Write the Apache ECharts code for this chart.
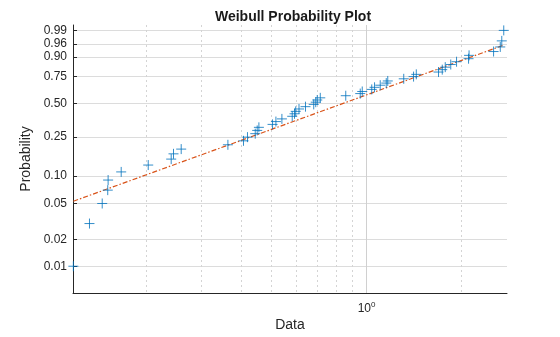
<!DOCTYPE html>
<html>
<head>
<meta charset="utf-8">
<script src="https://cdn.jsdelivr.net/npm/echarts@6/dist/echarts.min.js"></script>
<style>
  html, body { margin: 0; padding: 0; background: #fff; }
  #chart { width: 560px; height: 337px; }
</style>
</head>
<body>
<div id="chart"></div>
<script>
// Sample values (sorted) and their plotting positions
const dataValues = [
  0.1178, 0.1325, 0.1454, 0.1514, 0.1518, 0.1670, 0.2034, 0.2405, 0.2446, 0.2587,
  0.3637, 0.4076, 0.4196, 0.4440, 0.4504, 0.4560, 0.5037, 0.5163, 0.5393, 0.5815,
  0.5913, 0.5965, 0.6110, 0.6406, 0.6803, 0.6903, 0.6980, 0.7135, 0.8593, 0.9551,
  0.9691, 1.0387, 1.0601, 1.1050, 1.1547, 1.1674, 1.3118, 1.4093, 1.4374, 1.6907,
  1.7373, 1.7757, 1.8484, 1.9282, 2.1046, 2.1123, 2.5263, 2.6525, 2.6817, 2.7210
];
const probValues = [
  0.01, 0.03, 0.05, 0.07, 0.09, 0.11, 0.13, 0.15, 0.17, 0.19,
  0.21, 0.23, 0.25, 0.27, 0.29, 0.31, 0.33, 0.35, 0.37, 0.39,
  0.41, 0.43, 0.45, 0.47, 0.49, 0.51, 0.53, 0.55, 0.57, 0.59,
  0.61, 0.63, 0.65, 0.67, 0.69, 0.71, 0.73, 0.75, 0.77, 0.79,
  0.81, 0.83, 0.85, 0.87, 0.89, 0.91, 0.93, 0.95, 0.97, 0.99
];

// Probability axis ticks
const probTicks = [0.01, 0.02, 0.05, 0.10, 0.25, 0.50, 0.75, 0.90, 0.96, 0.99];
const probTickLabels = ['0.01', '0.02', '0.05', '0.10', '0.25', '0.50', '0.75', '0.90', '0.96', '0.99'];
const probRange = [0.005, 0.995];

// Data axis (logarithmic) grid positions
const dataMinorGrid = [0.2, 0.3, 0.4, 0.5, 0.6, 0.7, 0.8, 0.9, 2];
const dataMajorGrid = [1];
const dataRange = [0.1175, 2.786];

// Fitted Weibull parameters (scale, shape)
const fitScale = 1.122;
const fitShape = 1.292;

// Weibull probability scale and log10 data scale
const weib = p => Math.log(-Math.log(1 - p));
const lg = v => Math.log10(v);

const points = dataValues.map((v, i) => [lg(v), weib(probValues[i])]);
const fitEnds = [dataValues[0], dataValues[dataValues.length - 1]];
const fitLine = fitEnds.map(v => [lg(v), fitShape * (Math.log(v) - Math.log(fitScale))]);

const probTickPos = probTicks.map(weib);
const FONT = '"Liberation Sans", Arial, Helvetica, sans-serif';
const TXT = '#262626';
const plusPath = 'path://M0,5L10,5M5,0L5,10';

const chart = echarts.init(document.getElementById('chart'), null, { renderer: 'canvas' });
chart.setOption({
  animation: false,
  backgroundColor: '#ffffff',
  textStyle: { fontFamily: FONT },
  title: {
    text: 'Weibull Probability Plot',
    left: 288, top: 5, textAlign: 'center',
    textStyle: { fontFamily: FONT, fontSize: 14, fontWeight: 'bold', color: '#1a1a1a' }
  },
  grid: { left: 73, right: 53, top: 25, bottom: 41, containLabel: false },
  xAxis: [
    {
      type: 'value', min: lg(dataRange[0]), max: lg(dataRange[1]),
      position: 'bottom',
      axisLine: { show: true, onZero: false, lineStyle: { color: TXT, width: 1 } },
      axisTick: { show: false, customValues: dataMinorGrid.map(lg) },
      axisLabel: { show: false, customValues: dataMinorGrid.map(lg) },
      splitLine: { show: true, lineStyle: { color: '#d4d4d4', width: 1, type: [2, 3] } },
      name: 'Data', nameLocation: 'middle', nameGap: 25,
      nameTextStyle: { fontFamily: FONT, fontSize: 14, color: TXT }
    },
    {
      type: 'value', min: lg(dataRange[0]), max: lg(dataRange[1]),
      position: 'bottom',
      axisLine: { show: false, onZero: false },
      axisTick: { show: false, customValues: dataMajorGrid.map(lg) },
      axisLabel: {
        show: true, customValues: dataMajorGrid.map(lg), margin: 8,
        formatter: v => '{b|10}{s|' + Math.round(v) + '}',
        rich: {
          b: { fontFamily: FONT, fontSize: 12, color: TXT },
          s: { fontFamily: FONT, fontSize: 8, color: TXT, verticalAlign: 'top', padding: [0, 0, 7, 0] }
        }
      },
      splitLine: { show: true, lineStyle: { color: '#d0d0d0', width: 1, type: 'solid' } }
    }
  ],
  yAxis: {
    type: 'value', min: weib(probRange[0]), max: weib(probRange[1]),
    axisLine: { show: true, onZero: false, lineStyle: { color: TXT, width: 1 } },
    axisTick: { show: true, inside: true, length: 4, customValues: probTickPos, lineStyle: { color: TXT } },
    axisLabel: {
      show: true, customValues: probTickPos, margin: 6,
      fontFamily: FONT, fontSize: 12, color: TXT,
      formatter: v => {
        let best = 0;
        probTickPos.forEach((t, i) => { if (Math.abs(t - v) < Math.abs(probTickPos[best] - v)) best = i; });
        return probTickLabels[best];
      }
    },
    splitLine: { show: true, lineStyle: { color: '#dcdcdc', width: 1 } },
    name: 'Probability', nameLocation: 'middle', nameGap: 33, nameRotate: 90,
    nameTextStyle: { fontFamily: FONT, fontSize: 14, color: TXT }
  },
  series: [
    {
      type: 'line', xAxisIndex: 0, data: fitLine, symbol: 'none', z: 2,
      lineStyle: { color: '#D95319', width: 1.2, type: [5, 2, 1.5, 2] }
    },
    {
      type: 'scatter', xAxisIndex: 0, data: points, symbol: plusPath, symbolSize: 10,
      clip: false, z: 3,
      itemStyle: { color: 'none', borderColor: '#0072BD', borderWidth: 1 }
    }
  ]
});
</script>
</body>
</html>
